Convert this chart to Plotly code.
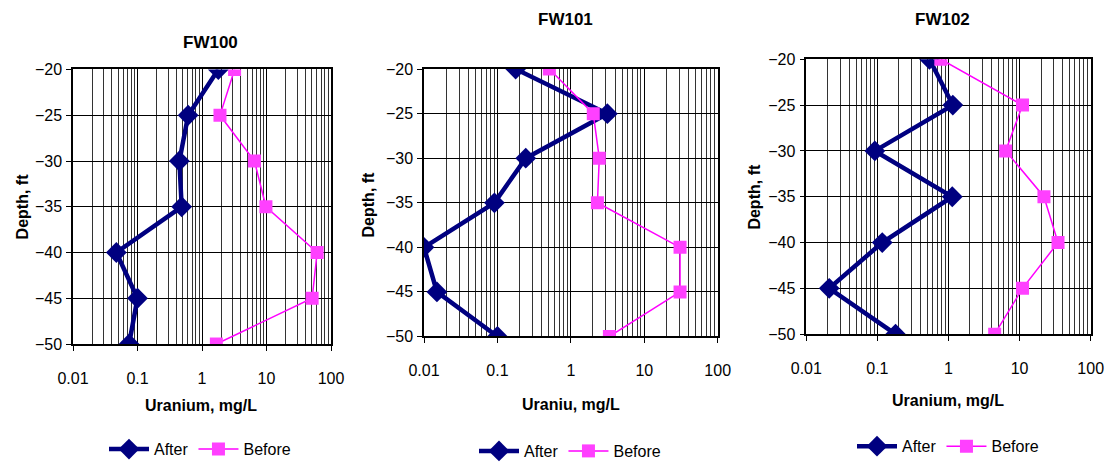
import plotly.graph_objects as go

depth = [-20, -25, -30, -35, -40, -45, -50]

wells = ["FW100", "FW101", "FW102"]
x_titles = ["Uranium, mg/L", "Uraniu, mg/L", "Uranium, mg/L"]
y_title = "Depth, ft"

fw100_after = [1.79, 0.61, 0.446, 0.484, 0.047, 0.10, 0.074]
fw100_before = [3.2, 1.9, 6.5, 9.8, 61, 51, 1.67]

fw101_after = [0.177, 3.14, 0.243, 0.091, 0.01, 0.015, 0.10]
fw101_before = [0.51, 2.02, 2.44, 2.30, 30.7, 30.7, 3.35]

fw102_after = [0.54, 1.15, 0.092, 1.13, 0.117, 0.021, 0.18]
fw102_before = [0.78, 11.0, 6.37, 22.0, 34.7, 11.0, 4.46]

after_series = [fw100_after, fw101_after, fw102_after]
before_series = [fw100_before, fw101_before, fw102_before]

x_tickvals = [0.01, 0.1, 1, 10, 100]
x_ticktext = ["0.01", "0.1", "1", "10", "100"]
y_tickvals = [-20, -25, -30, -35, -40, -45, -50]

W, H = 1117, 468
FONT = "Liberation Sans, Arial, sans-serif"


def fx(px):
    return px / W


def fy(py):
    return 1 - py / H


# pixel boxes of each plot area: (left, right, top, bottom)
boxes = [(73, 331, 70.7, 350), (424, 717.7, 70.3, 342.3), (806.3, 1090.7, 60.3, 340)]
title_pos = [(210, 43), (565, 20), (942, 20)]
xtitle_pos = [(201, 413), (571, 412), (948, 407)]
ytitle_pos = [(22, 210), (368, 208), (755, 200)]
legend_pos = [(200, 457), (570, 459), (948, 454)]

fig = go.Figure()
layout = dict(
    width=W, height=H,
    margin=dict(l=0, r=0, t=0, b=0),
    paper_bgcolor="white", plot_bgcolor="white",
    font=dict(family=FONT, size=16, color="black"),
    annotations=[],
)

for i in range(3):
    sfx = "" if i == 0 else str(i + 1)
    lg = "legend" if i == 0 else "legend" + str(i + 1)
    fig.add_trace(go.Scatter(
        x=after_series[i], y=depth, name="After", mode="lines+markers",
        line=dict(color="#000080", width=4.5),
        marker=dict(symbol="diamond", size=16, color="#000080"),
        xaxis="x" + sfx, yaxis="y" + sfx, legend=lg,
    ))
    fig.add_trace(go.Scatter(
        x=before_series[i], y=depth, name="Before", mode="lines+markers",
        line=dict(color="#FF00FF", width=1.5),
        marker=dict(symbol="square", size=13, color="#FF40FF"),
        xaxis="x" + sfx, yaxis="y" + sfx, legend=lg,
    ))
    l, r, t, b = boxes[i]
    layout["xaxis" + sfx] = dict(
        type="log", range=[-2, 2], domain=[fx(l), fx(r)],
        anchor="y" + sfx, automargin=False,
        tickvals=x_tickvals, ticktext=x_ticktext,
        ticks="outside", ticklen=5, tickcolor="black",
        ticklabelstandoff=14,
        showgrid=True, gridcolor="black", gridwidth=1,
        minor=dict(dtick="D1", showgrid=True, gridcolor="#333333", gridwidth=0.8, ticks=""),
        showline=True, linecolor="black", linewidth=1.5, mirror=True,
        zeroline=False,
        tickfont=dict(size=16),
    )
    layout["yaxis" + sfx] = dict(
        range=[-50, -20], domain=[fy(b), fy(t)],
        anchor="x" + sfx, automargin=False,
        tickvals=y_tickvals,
        ticks="outside", ticklen=5, tickcolor="black",
        ticklabelstandoff=1,
        showgrid=True, gridcolor="black", gridwidth=1,
        showline=True, linecolor="black", linewidth=1.5, mirror=True,
        zeroline=False,
        tickfont=dict(size=16),
    )
    layout["annotations"].append(dict(
        text="<b>" + wells[i] + "</b>", x=fx(title_pos[i][0]), y=fy(title_pos[i][1]),
        xref="paper", yref="paper", xanchor="center", yanchor="middle",
        showarrow=False, font=dict(size=17),
    ))
    layout["annotations"].append(dict(
        text="<b>" + x_titles[i] + "</b>", x=fx(xtitle_pos[i][0]), y=fy(xtitle_pos[i][1]),
        xref="paper", yref="paper", xanchor="center", yanchor="middle",
        showarrow=False, font=dict(size=16),
    ))
    layout["annotations"].append(dict(
        text="<b>" + y_title + "</b>", x=fx(ytitle_pos[i][0]), y=fy(ytitle_pos[i][1]),
        xref="paper", yref="paper", xanchor="center", yanchor="middle",
        showarrow=False, textangle=-90, font=dict(size=16),
    ))
    layout[lg] = dict(
        orientation="h", x=fx(legend_pos[i][0]), y=fy(legend_pos[i][1]),
        xanchor="center", yanchor="middle",
        font=dict(size=16), bgcolor="rgba(0,0,0,0)",
        itemwidth=40, tracegroupgap=0,
    )

fig.update_layout(**layout)
fig.write_html(
    "out.html",
    config={"displayModeBar": False},
    post_script=(
        "var de=document.documentElement;var bd=document.body;"
        "de.style.margin='0';de.style.padding='0';de.style.overflow='hidden';"
        "bd.style.margin='0';bd.style.padding='0';bd.style.overflow='hidden';"
        "bd.style.height='468px';de.style.height='468px';"
    ),
)
